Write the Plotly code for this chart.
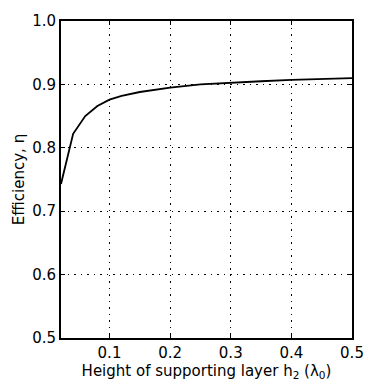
import plotly.graph_objects as go

h2 = [0.02, 0.04, 0.06, 0.08, 0.10, 0.12, 0.15, 0.20, 0.25, 0.30, 0.35, 0.40, 0.45, 0.50]
eta = [0.743, 0.822, 0.850, 0.866, 0.876, 0.882, 0.888, 0.895, 0.900, 0.903, 0.905, 0.907, 0.909, 0.910]

x_ticks = [0.1, 0.2, 0.3, 0.4, 0.5]
x_labels = ["0.1", "0.2", "0.3", "0.4", "0.5"]
y_ticks = [0.5, 0.6, 0.7, 0.8, 0.9, 1.0]
y_labels = ["0.5", "0.6", "0.7", "0.8", "0.9", "1.0"]

fig = go.Figure()
fig.add_trace(go.Scatter(x=h2, y=eta, mode="lines",
                         line=dict(color="black", width=1.8), showlegend=False))

font = dict(family="DejaVu Sans, Arial, sans-serif", size=15, color="black")
axis_common = dict(
    showline=True, linecolor="black", linewidth=2, mirror="ticks",
    ticks="inside", ticklen=4, tickcolor="black",
    showgrid=True, gridcolor="black", gridwidth=1.2, griddash="1.5px,5px",
    zeroline=False, tickfont=font,
)
fig.update_xaxes(range=[0.02, 0.5], tickvals=x_ticks, ticktext=x_labels,
                 title=dict(text="Height of supporting layer h<sub>2</sub> (λ<sub>0</sub>)",
                            font=font, standoff=0), **axis_common)
fig.update_yaxes(range=[0.5, 1.0], tickvals=y_ticks, ticktext=y_labels,
                 title=dict(text="Efficiency, η", font=font, standoff=4), **axis_common)
fig.update_layout(width=376, height=386, margin=dict(l=61, r=15, t=13, b=48),
                  plot_bgcolor="white", paper_bgcolor="white", font=font)
fig.write_html("out.html", config={"displayModeBar": False},
               post_script="document.body.style.margin='0';document.body.style.overflow='hidden';")
